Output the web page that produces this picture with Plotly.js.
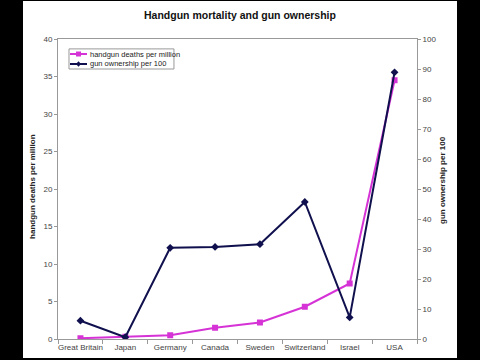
<!DOCTYPE html>
<html>
<head>
<meta charset="utf-8">
<script src="https://cdn.plot.ly/plotly-3.0.1.min.js"></script>
<style>
  html, body { margin: 0; padding: 0; background: #000; width: 480px; height: 360px; overflow: hidden; }
  #chart { position: absolute; left: 23px; top: 1px; width: 434px; height: 357px; background: #fff; }
</style>
</head>
<body>
<div id="chart"></div>
<script>
const countries = ["Great Britain", "Japan", "Germany", "Canada", "Sweden", "Switzerland", "Israel", "USA"];
const handgunDeaths = [0.1, 0.3, 0.5, 1.5, 2.2, 4.3, 7.4, 34.5];
const gunOwnership = [6.1, 0.6, 30.4, 30.7, 31.6, 45.7, 7.2, 88.9];
const leftTicks = [0, 5, 10, 15, 20, 25, 30, 35, 40];
const rightTicks = [0, 10, 20, 30, 40, 50, 60, 70, 80, 90, 100];

const FONT = "Arial, 'Liberation Sans', sans-serif";
const PINK = "#d633d6";
const NAVY = "#10104e";

const traces = [
  {
    x: countries, y: handgunDeaths, name: "handgun deaths per million",
    type: "scatter", mode: "lines+markers", yaxis: "y",
    line: { color: PINK, width: 2 },
    marker: { symbol: "square", size: 6, color: PINK }
  },
  {
    x: countries, y: gunOwnership, name: "gun ownership per 100",
    type: "scatter", mode: "lines+markers", yaxis: "y2",
    line: { color: NAVY, width: 2 },
    marker: { symbol: "diamond", size: 6, color: NAVY }
  }
];

const axisCommon = {
  showgrid: false, zeroline: false, showline: true, linecolor: "#999", linewidth: 1,
  ticks: "outside", ticklen: 3, tickcolor: "#999",
  tickfont: { family: FONT, size: 8, color: "#444" }
};

const legendY1 = 0.95, legendY2 = 0.9167;
const layout = {
  width: 434, height: 357,
  margin: { l: 35, r: 40, t: 38, b: 19, pad: 0 },
  paper_bgcolor: "#fff", plot_bgcolor: "#fff",
  showlegend: false,
  title: {
    text: "<b>Handgun mortality and gun ownership</b>",
    font: { family: FONT, size: 10.5, color: "#111" },
    x: 0.5, xanchor: "center", y: 0.961, yanchor: "middle"
  },
  xaxis: Object.assign({}, axisCommon, {
    type: "category", range: [-0.5, 7.5], tickson: "boundaries", ticklen: 4,
    tickangle: 0, automargin: false, mirror: true, fixedrange: true
  }),
  yaxis: Object.assign({}, axisCommon, {
    range: [0, 40], tickvals: leftTicks, automargin: false
  }),
  yaxis2: Object.assign({}, axisCommon, {
    range: [0, 100], tickvals: rightTicks, overlaying: "y", side: "right", automargin: false
  }),
  annotations: [
    { text: "<b>handgun deaths per million</b>", xref: "paper", yref: "paper",
      x: -0.0696, y: 0.507, xanchor: "center", yanchor: "middle", textangle: -90, showarrow: false,
      font: { family: FONT, size: 8, color: "#222" } },
    { text: "<b>gun ownership per 100</b>", xref: "paper", yref: "paper",
      x: 1.0696, y: 0.53, xanchor: "center", yanchor: "middle", textangle: -90, showarrow: false,
      font: { family: FONT, size: 8, color: "#222" } },
    { text: "handgun deaths per million", xref: "paper", yref: "paper",
      x: 0.0836, y: legendY1, xanchor: "left", yanchor: "middle", showarrow: false,
      font: { family: FONT, size: 7.5, color: "#222" } },
    { text: "gun ownership per 100", xref: "paper", yref: "paper",
      x: 0.0836, y: legendY2, xanchor: "left", yanchor: "middle", showarrow: false,
      font: { family: FONT, size: 7.5, color: "#222" } }
  ],
  shapes: [
    { type: "rect", xref: "paper", yref: "paper", x0: 0.0306, x1: 0.323, y0: 0.9, y1: 0.967,
      line: { color: "#999", width: 1 }, fillcolor: "#fff", layer: "above" },
    { type: "line", xref: "paper", yref: "paper", x0: 0.0334, x1: 0.0808, y0: legendY1, y1: legendY1,
      line: { color: PINK, width: 2 }, layer: "above" },
    { type: "rect", xref: "paper", yref: "paper", xsizemode: "pixel", ysizemode: "pixel",
      xanchor: 0.0571, yanchor: legendY1, x0: -2.5, x1: 2.5, y0: -2.5, y1: 2.5,
      line: { width: 0 }, fillcolor: PINK, layer: "above" },
    { type: "line", xref: "paper", yref: "paper", x0: 0.0334, x1: 0.0808, y0: legendY2, y1: legendY2,
      line: { color: NAVY, width: 2 }, layer: "above" },
    { type: "path", xref: "paper", yref: "paper",
      path: "M 0.0501 " + legendY2 + " L 0.0571 " + (legendY2 + 0.0093) + " L 0.0641 " + legendY2 + " L 0.0571 " + (legendY2 - 0.0093) + " Z",
      line: { width: 0 }, fillcolor: NAVY, layer: "above" }
  ]
};

Plotly.newPlot("chart", traces, layout, { displayModeBar: false, staticPlot: true });
</script>
</body>
</html>
